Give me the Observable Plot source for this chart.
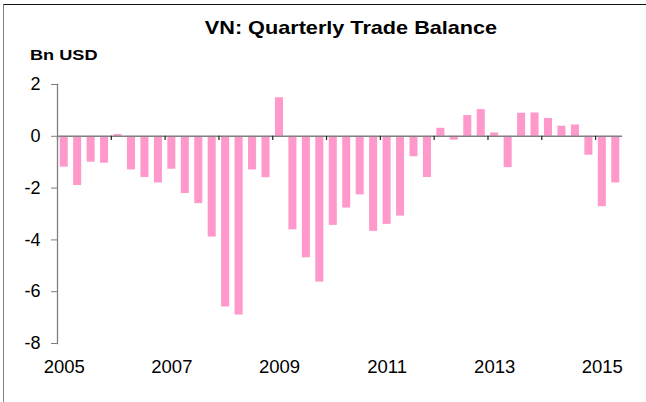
<!DOCTYPE html>
<html>
<head>
<meta charset="utf-8">
<script src="https://cdn.jsdelivr.net/npm/d3@7"></script>
<script src="https://cdn.jsdelivr.net/npm/@observablehq/plot@0.6"></script>
<style>
  html, body { margin: 0; padding: 0; background: #fff; }
  #wrap { position: relative; width: 646px; height: 402px; overflow: hidden; font-family: "Liberation Sans", Arial, sans-serif; }
  #border { position: absolute; left: 3px; top: 4px; width: 660px; height: 420px; border-top: 1.5px solid #111; border-left: 1.5px solid #808080; box-sizing: border-box; }
  #title { position: absolute; left: 0; width: 702px; top: 17px; text-align: center; font-weight: bold; font-size: 18.5px; color: #000; white-space: nowrap; transform: scaleX(1.17); transform-origin: 351px 50%; }
  #unit { position: absolute; left: 30px; top: 46px; font-weight: bold; font-size: 15.5px; color: #000; white-space: nowrap; transform: scaleX(1.17); transform-origin: 0 50%; }
  #chart { position: absolute; left: 0; top: 0; }
</style>
</head>
<body>
<div id="wrap">
  <div id="chart"></div>
  <div id="border"></div>
  <div id="title">VN: Quarterly Trade Balance</div>
  <div id="unit">Bn USD</div>
</div>
<script>
// Quarters from 2005 Q1 to 2015 Q2
const years = [2005, 2006, 2007, 2008, 2009, 2010, 2011, 2012, 2013, 2014, 2015];
const quarterOffsets = [0, 0.25, 0.5, 0.75];
const balance = [
  -1.19, -1.90, -1.00, -1.04,   // 2005
   0.07, -1.30, -1.59, -1.80,   // 2006
  -1.27, -2.21, -2.60, -3.89,   // 2007
  -6.59, -6.90, -1.30, -1.60,   // 2008
   1.49, -3.61, -4.69, -5.63,   // 2009
  -3.44, -2.77, -2.26, -3.67,   // 2010
  -3.40, -3.08, -0.79, -1.59,   // 2011
   0.31, -0.15,  0.80,  1.03,   // 2012
   0.13, -1.21,  0.89,  0.90,   // 2013
   0.69,  0.39,  0.44, -0.73,   // 2014
  -2.72, -1.80                  // 2015
];
const yTicks = [-8, -6, -4, -2, 0, 2];
const xLabelYears = [2005, 2007, 2009, 2011, 2013, 2015];

const periods = [];
for (const y of years) for (const q of quarterOffsets) periods.push(y + q);
const data = balance.map((v, i) => ({t: periods[i], value: v}));

const chart = Plot.plot({
  width: 646,
  height: 402,
  marginLeft: 57,
  marginRight: 24,
  marginTop: 84,
  marginBottom: 59,
  style: {fontFamily: '"Liberation Sans", Arial, sans-serif', background: "transparent"},
  x: {type: "linear", domain: [2005, 2015.5]},
  y: {type: "linear", domain: [-8, 2]},
  marks: [
    Plot.rectY(data, {x1: "t", x2: d => d.t + 0.25, y1: 0, y2: "value", fill: "#FF99CC", insetLeft: 2.7, insetRight: 2.7}),
    Plot.ruleY([0], {stroke: "#808080", strokeWidth: 1.5}),
    Plot.ruleX(years, {x: d => d, y1: 0, y2: -0.16, stroke: "#222", strokeWidth: 1.2}),
    Plot.frame({anchor: "left", stroke: "#808080", strokeWidth: 1.3}),
    Plot.axisY({ticks: yTicks, tickSize: 6, tickPadding: 11, tickFormat: d => String(d), fontSize: 18, stroke: "#808080", color: "#000", label: null}),
    Plot.axisX({ticks: xLabelYears.map(y => y + 0.125), tickSize: 0, tickPadding: 16, tickFormat: d => String(Math.floor(d)), fontSize: 18.5, color: "#000", label: null})
  ]
});
document.getElementById("chart").appendChild(chart);
</script>
</body>
</html>
